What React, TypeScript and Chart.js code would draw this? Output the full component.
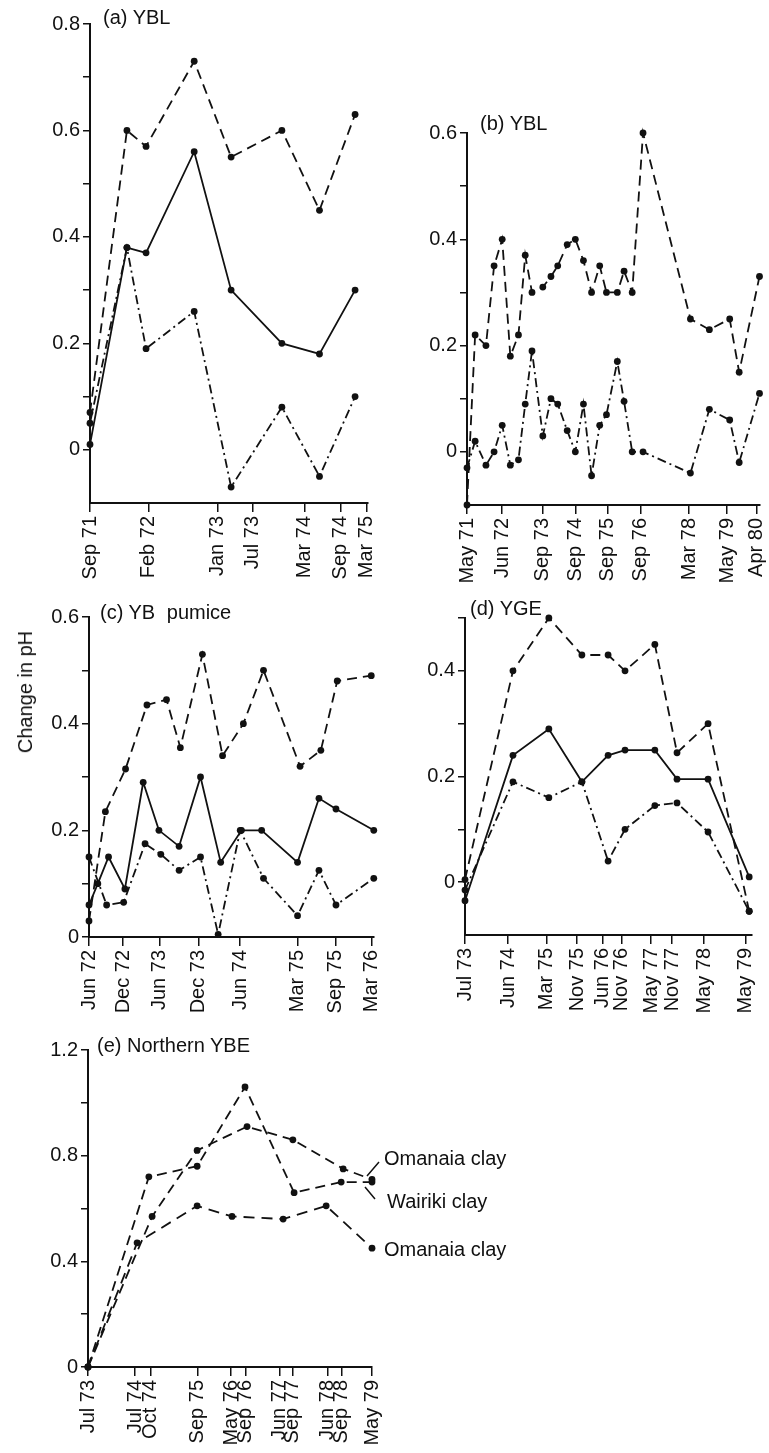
import React, { useEffect, useRef } from 'react';
import { Chart, registerables } from 'chart.js';

Chart.register(...registerables);

const FONT = '"Liberation Sans", Arial, Helvetica, sans-serif';
const INK = '#111111';

// ---------- Panel (a) YBL ----------
const aTickPos = [0, 8.9, 19.3, 24.7, 32.5, 38.0, 42];
const aTickLabels = ['Sep 71', 'Feb 72', 'Jan 73', 'Jul 73', 'Mar 74', 'Sep 74', 'Mar 75'];
const aX = [0, 5.6, 8.5, 15.8, 21.4, 29.1, 34.8, 40.2];
const aDashed = [0.07, 0.6, 0.57, 0.73, 0.55, 0.6, 0.45, 0.63];
const aSolid = [0.01, 0.38, 0.37, 0.56, 0.3, 0.2, 0.18, 0.3];
const aDashDot = [0.05, 0.38, 0.19, 0.26, -0.07, 0.08, -0.05, 0.1];

// ---------- Panel (b) YBL ----------
const bTickPos = [0, 13, 28, 40, 52, 64, 82, 96, 107];
const bTickLabels = ['May 71', 'Jun 72', 'Sep 73', 'Sep 74', 'Sep 75', 'Sep 76', 'Mar 78', 'May 79', 'Apr 80'];
const bX = [0, 3, 7, 10, 13, 16, 19, 21.5, 24, 28, 31, 33.5, 37, 40, 43, 46, 49, 51.5, 55.5, 58, 61, 65, 82.5, 89.5, 97, 100.5, 108];
const bDashed = [-0.1, 0.22, 0.2, 0.35, 0.4, 0.18, 0.22, 0.37, 0.3, 0.31, 0.33, 0.35, 0.39, 0.4, 0.36, 0.3, 0.35, 0.3, 0.3, 0.34, 0.3, 0.6, 0.25, 0.23, 0.25, 0.15, 0.33];
const bDashDot = [-0.03, 0.02, -0.025, 0.0, 0.05, -0.025, -0.015, 0.09, 0.19, 0.03, 0.1, 0.09, 0.04, 0.0, 0.09, -0.045, 0.05, 0.07, 0.17, 0.095, 0.0, 0.0, -0.04, 0.08, 0.06, -0.02, 0.11];

// ---------- Panel (c) YB pumice ----------
const cTickPos = [0, 5.4, 11.2, 17.4, 24, 33.1, 39.1, 44.9];
const cTickLabels = ['Jun 72', 'Dec 72', 'Jun 73', 'Dec 73', 'Jun 74', 'Mar 75', 'Sep 75', 'Mar 76'];
const cDashedX = [0, 2.6, 5.8, 9.2, 12.3, 14.5, 18.0, 21.2, 24.5, 27.7, 33.5, 36.8, 39.4, 44.8];
const cDashed = [0.03, 0.235, 0.315, 0.435, 0.445, 0.355, 0.53, 0.34, 0.4, 0.5, 0.32, 0.35, 0.48, 0.49];
const cSolidX = [0, 1.4, 3.1, 5.7, 8.6, 11.1, 14.3, 17.7, 20.9, 24.2, 27.4, 33.1, 36.5, 39.2, 45.2];
const cSolid = [0.06, 0.1, 0.15, 0.09, 0.29, 0.2, 0.17, 0.3, 0.14, 0.2, 0.2, 0.14, 0.26, 0.24, 0.2];
const cDashDotX = [0, 2.8, 5.5, 8.9, 11.4, 14.3, 17.7, 20.5, 24.0, 27.7, 33.1, 36.5, 39.2, 45.2];
const cDashDot = [0.15, 0.06, 0.065, 0.175, 0.155, 0.125, 0.15, 0.005, 0.2, 0.11, 0.04, 0.125, 0.06, 0.11];

// ---------- Panel (d) YGE ----------
const dTickPos = [0, 10.7, 20.3, 27.8, 34.2, 38.9, 46.2, 51.4, 59.3, 69.7];
const dTickLabels = ['Jul 73', 'Jun 74', 'Mar 75', 'Nov 75', 'Jun 76', 'Nov 76', 'May 77', 'Nov 77', 'May 78', 'May 79'];
const dX = [0, 11.9, 20.8, 29.0, 35.5, 39.7, 47.1, 52.6, 60.3, 70.5];
const dDashed = [0.005, 0.4, 0.5, 0.43, 0.43, 0.4, 0.45, 0.245, 0.3, -0.055];
const dSolid = [-0.035, 0.24, 0.29, 0.19, 0.24, 0.25, 0.25, 0.195, 0.195, 0.01];
const dDashDot = [-0.015, 0.19, 0.16, 0.19, 0.04, 0.1, 0.145, 0.15, 0.095, -0.055];

// ---------- Panel (e) Northern YBE ----------
const eTickPos = [0, 11.6, 15.4, 27, 35.3, 38.9, 47.3, 50.5, 59.0, 62.6, 70];
const eTickLabels = ['Jul 73', 'Jul 74', 'Oct 74', 'Sep 75', 'May 76', 'Sep 76', 'Jun 77', 'Sep 77', 'Jun 78', 'Sep 78', 'May 79'];
const eOmanaiaTopX = [0, 15.8, 26.9, 39.2, 50.5, 62.9, 70];
const eOmanaiaTop = [0, 0.57, 0.82, 0.91, 0.86, 0.75, 0.71];
const eWairikiX = [0, 15.0, 26.9, 38.7, 50.8, 62.4, 70];
const eWairiki = [0, 0.72, 0.76, 1.06, 0.66, 0.7, 0.7];
const eOmanaiaLowX = [0, 12.1, 26.9, 35.5, 48.1, 58.7, 70];
const eOmanaiaLow = [0, 0.47, 0.61, 0.57, 0.56, 0.61, 0.45];

const DASHED = [10, 6];
const DASHDOT = [9, 4, 2, 4];
const SOLID: number[] = [];

type Series = { label: string; xs: number[]; ys: number[]; dash: number[] };
type Panel = {
  box: { left: number; top: number; width: number; height: number };
  area: { L: number; T: number; R: number; B: number };
  xMax: number;
  xTicks: number[];
  xLabels: string[];
  yMin: number;
  yMax: number;
  yStep: number; // tenths
  yLabelEvery: number; // tenths
  series: Series[];
  leaders?: boolean;
};

const Y_AXIS_W = 70;
const X_AXIS_H = 80;

const panels: Panel[] = [
  {
    box: { left: 0, top: 0, width: 395, height: 600 },
    area: { L: 90, T: 24, R: 378, B: 503 },
    xMax: 42.1, xTicks: aTickPos, xLabels: aTickLabels,
    yMin: -0.1, yMax: 0.8, yStep: 1, yLabelEvery: 2,
    series: [
      { label: 'dashed', xs: aX, ys: aDashed, dash: DASHED },
      { label: 'solid', xs: aX, ys: aSolid, dash: SOLID },
      { label: 'dash-dot', xs: aX, ys: aDashDot, dash: DASHDOT },
    ],
  },
  {
    box: { left: 385, top: 100, width: 400, height: 500 },
    area: { L: 467, T: 133, R: 763, B: 505 },
    xMax: 108.1, xTicks: bTickPos, xLabels: bTickLabels,
    yMin: -0.1, yMax: 0.6, yStep: 1, yLabelEvery: 2,
    series: [
      { label: 'dashed', xs: bX, ys: bDashed, dash: DASHED },
      { label: 'dash-dot', xs: bX, ys: bDashDot, dash: DASHDOT },
    ],
  },
  {
    box: { left: 0, top: 590, width: 400, height: 470 },
    area: { L: 89, T: 617, R: 383, B: 937 },
    xMax: 45.2, xTicks: cTickPos, xLabels: cTickLabels,
    yMin: 0, yMax: 0.6, yStep: 1, yLabelEvery: 2,
    series: [
      { label: 'dashed', xs: cDashedX, ys: cDashed, dash: DASHED },
      { label: 'solid', xs: cSolidX, ys: cSolid, dash: SOLID },
      { label: 'dash-dot', xs: cDashDotX, ys: cDashDot, dash: DASHDOT },
    ],
  },
  {
    box: { left: 385, top: 590, width: 400, height: 470 },
    area: { L: 465, T: 618, R: 752, B: 935 },
    xMax: 71.2, xTicks: dTickPos, xLabels: dTickLabels,
    yMin: -0.1, yMax: 0.5, yStep: 1, yLabelEvery: 2,
    series: [
      { label: 'dashed', xs: dX, ys: dDashed, dash: DASHED },
      { label: 'solid', xs: dX, ys: dSolid, dash: SOLID },
      { label: 'dash-dot', xs: dX, ys: dDashDot, dash: DASHDOT },
    ],
  },
  {
    box: { left: 0, top: 1020, width: 400, height: 433 },
    area: { L: 88, T: 1050, R: 372, B: 1367 },
    xMax: 70, xTicks: eTickPos, xLabels: eTickLabels,
    yMin: 0, yMax: 1.2, yStep: 2, yLabelEvery: 4,
    series: [
      { label: 'Omanaia clay', xs: eOmanaiaTopX, ys: eOmanaiaTop, dash: DASHED },
      { label: 'Wairiki clay', xs: eWairikiX, ys: eWairiki, dash: DASHED },
      { label: 'Omanaia clay', xs: eOmanaiaLowX, ys: eOmanaiaLow, dash: [11, 7] },
    ],
    leaders: true,
  },
];

const leaderPlugin = {
  id: 'leaders',
  afterDatasetsDraw(chart: any) {
    const meta = chart.getDatasetMeta(1);
    const pts = meta.data;
    if (!pts || !pts.length) return;
    const p = pts[pts.length - 1];
    const ctx = chart.ctx;
    ctx.save();
    ctx.strokeStyle = INK;
    ctx.lineWidth = 1.5;
    ctx.setLineDash([]);
    ctx.beginPath();
    ctx.moveTo(p.x - 5, p.y - 6);
    ctx.lineTo(p.x + 7, p.y - 20);
    ctx.moveTo(p.x - 7, p.y + 5);
    ctx.lineTo(p.x + 3, p.y + 17);
    ctx.stroke();
    ctx.restore();
  },
};

function fmt(v: number) {
  return Math.abs(v) < 1e-9 ? '0' : v.toFixed(1);
}

function buildChart(canvas: HTMLCanvasElement, p: Panel) {
  const pad = {
    left: p.area.L - p.box.left - Y_AXIS_W,
    top: p.area.T - p.box.top,
    right: p.box.left + p.box.width - p.area.R,
    bottom: p.box.top + p.box.height - p.area.B - X_AXIS_H,
  };
  const yTicks: number[] = [];
  const start = Math.max(0, Math.round(p.yMin * 10));
  for (let i = start; i <= Math.round(p.yMax * 10); i += p.yStep) yTicks.push(i / 10);

  const datasets = p.series.map((s) => ({
    label: s.label,
    data: s.xs.map((x, i) => ({ x, y: s.ys[i] })),
    borderColor: INK,
    backgroundColor: INK,
    borderWidth: 1.8,
    borderDash: s.dash,
    pointRadius: 3.4,
    pointHoverRadius: 3.4,
    pointBackgroundColor: INK,
    pointBorderColor: INK,
    pointBorderWidth: 0,
    tension: 0,
    fill: false,
    clip: false as any,
  }));

  const tickFont = { family: FONT, size: 20 };

  return new Chart(canvas, {
    type: 'line',
    data: { datasets },
    options: {
      animation: false,
      responsive: false,
      events: [],
      layout: { padding: pad },
      plugins: { legend: { display: false }, tooltip: { enabled: false }, title: { display: false } },
      scales: {
        x: {
          type: 'linear',
          min: 0,
          max: p.xMax,
          border: { display: true, color: INK, width: 2 },
          grid: { display: true, drawOnChartArea: false, drawTicks: true, tickLength: 9, color: INK, lineWidth: 1.5 },
          ticks: {
            autoSkip: false,
            maxRotation: 90,
            minRotation: 90,
            padding: 4,
            color: INK,
            font: tickFont,
            callback: (_v: any, i: number) => p.xLabels[i],
          },
          afterBuildTicks: (s: any) => {
            s.ticks = p.xTicks.map((v) => ({ value: v }));
          },
          afterFit: (s: any) => {
            s.height = X_AXIS_H;
          },
        },
        y: {
          type: 'linear',
          min: p.yMin,
          max: p.yMax,
          border: { display: true, color: INK, width: 2 },
          grid: { display: true, drawOnChartArea: false, drawTicks: true, tickLength: 7, color: INK, lineWidth: 1.5 },
          ticks: {
            autoSkip: false,
            padding: 3,
            color: INK,
            font: tickFont,
            callback: (v: any) => {
              const t = Math.round(Number(v) * 10);
              return t % p.yLabelEvery === 0 ? fmt(Number(v)) : '';
            },
          },
          afterBuildTicks: (s: any) => {
            s.ticks = yTicks.map((v) => ({ value: v }));
          },
          afterFit: (s: any) => {
            s.width = Y_AXIS_W;
          },
        },
      },
    } as any,
    plugins: p.leaders ? [leaderPlugin as any] : [],
  });
}

function PanelChart({ p }: { p: Panel }) {
  const ref = useRef<HTMLCanvasElement>(null);
  useEffect(() => {
    const c = ref.current;
    if (!c) return;
    const chart = buildChart(c, p);
    return () => chart.destroy();
  }, [p]);
  return (
    <canvas
      ref={ref}
      width={p.box.width}
      height={p.box.height}
      style={{ position: 'absolute', left: p.box.left, top: p.box.top, width: p.box.width, height: p.box.height }}
    />
  );
}

const textStyle: React.CSSProperties = {
  position: 'absolute',
  font: `20px ${FONT}`,
  lineHeight: '20px',
  whiteSpace: 'nowrap',
  color: INK,
};

export default function App() {
  return (
    <div
      style={{
        position: 'absolute',
        left: 0,
        top: 0,
        width: 769,
        height: 1453,
        overflow: 'hidden',
        background: '#ffffff',
      }}
    >
      {panels.map((p, i) => (
        <PanelChart key={i} p={p} />
      ))}
      <div style={{ ...textStyle, left: 103, top: 7 }}>(a) YBL</div>
      <div style={{ ...textStyle, left: 480, top: 113 }}>(b) YBL</div>
      <div style={{ ...textStyle, left: 100, top: 602 }}>
        (c) YB <span style={{ marginLeft: 6 }}>pumice</span>
      </div>
      <div style={{ ...textStyle, left: 470, top: 598 }}>(d) YGE</div>
      <div style={{ ...textStyle, left: 97, top: 1035 }}>(e) Northern YBE</div>
      <div
        style={{
          ...textStyle,
          left: 25,
          top: 692,
          transform: 'translate(-50%, -50%) rotate(-90deg)',
        }}
      >
        Change in pH
      </div>
      <div style={{ ...textStyle, left: 384, top: 1148 }}>Omanaia clay</div>
      <div style={{ ...textStyle, left: 387, top: 1191 }}>Wairiki clay</div>
      <div style={{ ...textStyle, left: 384, top: 1239 }}>Omanaia clay</div>
    </div>
  );
}
